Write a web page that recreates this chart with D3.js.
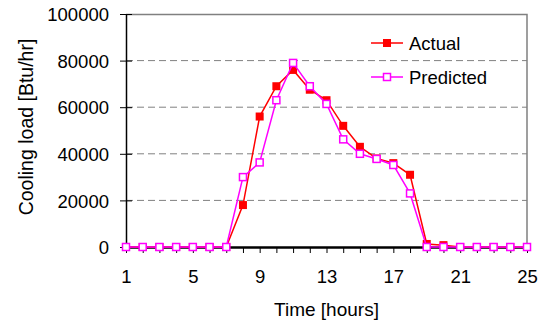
<!DOCTYPE html>
<html>
<head>
<meta charset="utf-8">
<script src="https://d3js.org/d3.v7.min.js"></script>
<style>
  body { margin: 0; background: #fff; }
  text { font-family: Arial, "Liberation Sans", sans-serif; fill: #000; }
</style>
</head>
<body>
<script>
// data
var hours = [1, 2, 3, 4, 5, 6, 7, 8, 9, 10, 11, 12, 13, 14, 15, 16, 17, 18, 19, 20, 21, 22, 23, 24, 25];
var actual = [0, 0, 0, 0, 0, 0, 0, 18000, 56000, 69000, 76000, 67500, 63000, 52000, 43000, 38000, 36000, 31000, 1300, 800, 0, 0, 0, 0, 0];
var predicted = [0, 0, 0, 0, 0, 0, 0, 30000, 36300, 63000, 79000, 69000, 61400, 46200, 40000, 37800, 35200, 23000, 0, 0, 0, 0, 0, 0, 0];
var yTicks = [0, 20000, 40000, 60000, 80000, 100000];
var xTickLabels = [1, 5, 9, 13, 17, 21, 25];

var svgWidth = 542;
var svgHeight = 327;

var chartMargin = {
  top: 14,
  right: 15,
  bottom: 80,
  left: 126
};

var chartWidth = svgWidth - chartMargin.left - chartMargin.right;
var chartHeight = svgHeight - chartMargin.top - chartMargin.bottom;

var svg = d3.select("body")
  .append("svg")
  .attr("width", svgWidth)
  .attr("height", svgHeight);

var chartGroup = svg.append("g")
  .attr("transform", `translate(${chartMargin.left}, ${chartMargin.top})`);

var xScale = d3.scaleLinear()
  .domain([1, 25])
  .range([0, chartWidth]);

var yScale = d3.scaleLinear()
  .domain([0, 100000])
  .range([chartHeight, 0]);

// dashed gridlines
chartGroup.selectAll(".grid")
  .data(yTicks.filter(d => d > 0 && d < 100000))
  .enter()
  .append("line")
  .attr("x1", 0)
  .attr("x2", chartWidth)
  .attr("y1", d => yScale(d))
  .attr("y2", d => yScale(d))
  .attr("stroke", "#808080")
  .attr("stroke-width", 1)
  .attr("stroke-dasharray", "7,4");

// plot frame (top and right)
chartGroup.append("path")
  .attr("d", `M0,0.5H${chartWidth}V${chartHeight}`)
  .attr("fill", "none")
  .attr("stroke", "#808080")
  .attr("stroke-width", 1.5);

// y axis
var leftAxis = d3.axisLeft(yScale)
  .tickValues(yTicks)
  .tickFormat(d3.format("d"))
  .tickSizeInner(6)
  .tickSizeOuter(0)
  .tickPadding(11);

var yAxis = chartGroup.append("g").call(leftAxis);
yAxis.select(".domain").attr("stroke", "#000").attr("stroke-width", 1.5);
yAxis.selectAll(".tick line").attr("x2", -6).attr("x1", 6).attr("stroke", "#000");
yAxis.selectAll(".tick text")
  .style("font-size", "18.5px")
  .style("font-family", "Arial, 'Liberation Sans', sans-serif")
  .attr("dy", "0.36em");

// x axis: a tick every hour, labels every 4 hours
var bottomAxis = d3.axisBottom(xScale)
  .tickValues(hours)
  .tickSizeInner(6)
  .tickSizeOuter(0)
  .tickPadding(17)
  .tickFormat(d => xTickLabels.indexOf(d) >= 0 ? d : "");

var xAxis = chartGroup.append("g")
  .attr("transform", `translate(0, ${chartHeight})`)
  .call(bottomAxis);
xAxis.select(".domain").attr("stroke", "#000").attr("stroke-width", 2.5);
xAxis.selectAll(".tick line").attr("stroke", "#000");
xAxis.selectAll(".tick text")
  .style("font-size", "18.5px")
  .style("font-family", "Arial, 'Liberation Sans', sans-serif");

// axis titles
svg.append("text")
  .attr("x", chartMargin.left + chartWidth / 2)
  .attr("y", 316)
  .attr("text-anchor", "middle")
  .style("font-size", "19px")
  .text("Time [hours]");

svg.append("text")
  .attr("transform", "translate(33, 127) rotate(-90)")
  .attr("text-anchor", "middle")
  .style("font-size", "19.5px")
  .text("Cooling load [Btu/hr]");

var line = d3.line()
  .x((d, i) => xScale(hours[i]))
  .y(d => yScale(d));

var markerSize = 8;

// actual series
chartGroup.append("path")
  .datum(actual)
  .attr("d", line)
  .attr("fill", "none")
  .attr("stroke", "#ff0000")
  .attr("stroke-width", 1.5);

chartGroup.selectAll(".actual")
  .data(actual)
  .enter()
  .append("rect")
  .attr("x", (d, i) => xScale(hours[i]) - markerSize / 2)
  .attr("y", d => yScale(d) - markerSize / 2)
  .attr("width", markerSize)
  .attr("height", markerSize)
  .attr("fill", "#ff0000");

// predicted series
chartGroup.append("path")
  .datum(predicted)
  .attr("d", line)
  .attr("fill", "none")
  .attr("stroke", "#ff00ff")
  .attr("stroke-width", 1.5);

chartGroup.selectAll(".predicted")
  .data(predicted)
  .enter()
  .append("rect")
  .attr("x", (d, i) => xScale(hours[i]) - (markerSize - 1) / 2)
  .attr("y", d => yScale(d) - (markerSize - 1) / 2)
  .attr("width", markerSize - 1)
  .attr("height", markerSize - 1)
  .attr("fill", "#fff")
  .attr("stroke", "#ff00ff")
  .attr("stroke-width", 1.5);

// legend
var legend = svg.append("g");

legend.append("line")
  .attr("x1", 371).attr("x2", 403)
  .attr("y1", 43).attr("y2", 43)
  .attr("stroke", "#ff0000").attr("stroke-width", 1.5);
legend.append("rect")
  .attr("x", 387 - markerSize / 2).attr("y", 43 - markerSize / 2)
  .attr("width", markerSize).attr("height", markerSize)
  .attr("fill", "#ff0000");
legend.append("text")
  .attr("x", 409).attr("y", 50)
  .style("font-size", "18.5px")
  .text("Actual");

legend.append("line")
  .attr("x1", 371).attr("x2", 403)
  .attr("y1", 77).attr("y2", 77)
  .attr("stroke", "#ff00ff").attr("stroke-width", 1.5);
legend.append("rect")
  .attr("x", 387 - (markerSize - 1) / 2).attr("y", 77 - (markerSize - 1) / 2)
  .attr("width", markerSize - 1).attr("height", markerSize - 1)
  .attr("fill", "#fff")
  .attr("stroke", "#ff00ff").attr("stroke-width", 1.5);
legend.append("text")
  .attr("x", 409).attr("y", 84)
  .style("font-size", "18.5px")
  .text("Predicted");
</script>
</body>
</html>
